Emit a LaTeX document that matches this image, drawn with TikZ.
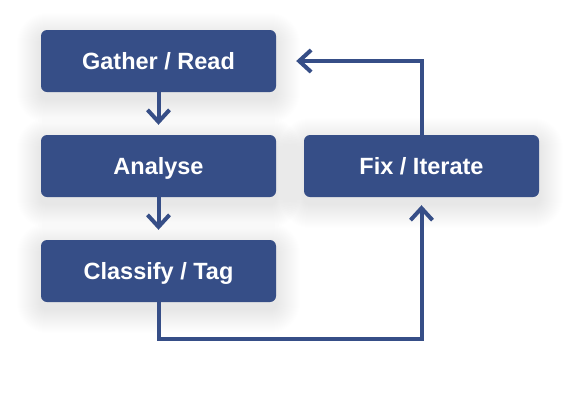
\documentclass[tikz,border=0pt]{standalone}
\usepackage{fontspec}
\setmainfont{Liberation Sans}
\usetikzlibrary{arrows.meta,calc}
\definecolor{boxblue}{HTML}{364E87}
\tikzset{
  stepbox/.style={rectangle, rounded corners=6pt, fill=boxblue, text=white,
    minimum width=235pt, minimum height=62pt, inner sep=0pt,
    text height=17pt, text depth=0pt,
    font=\fontsize{23.5pt}{28pt}\selectfont\bfseries},
  conn/.style={draw=boxblue, line width=4pt, -{Straight Barb[length=12pt,width=22pt,line width=4pt]}},
  glow/.style={fill=black, fill opacity=0.0055}
}
\newcommand{\boxglow}[1]{%
  \foreach \i in {1,...,24} {
    \fill[glow, rounded corners=6pt+\i pt]
      ($(#1)+(-117.5-\i,-31-\i+7)$) rectangle ($(#1)+(117.5+\i,31+\i+7)$);
  }}
\begin{document}
\begin{tikzpicture}[x=1pt,y=-1pt]
\useasboundingbox[fill=white] (0,0) rectangle (581,410);
\coordinate (cg) at (158.5,61);
\coordinate (ca) at (158.5,166);
\coordinate (cc) at (158.5,271);
\coordinate (cf) at (421.5,166);
\boxglow{cg}
\boxglow{ca}
\boxglow{cc}
\boxglow{cf}
\node[stepbox] (gather) at (cg) {Gather / Read};
\node[stepbox] (analyse) at (ca) {Analyse};
\node[stepbox] (classify) at (cc) {Classify / Tag};
\node[stepbox] (fix) at (cf) {Fix / Iterate};
\coordinate (gin) at ([xshift=20pt]gather.east);
\coordinate (ain) at ([yshift=10pt]analyse.north);
\coordinate (cin) at ([yshift=10pt]classify.north);
\coordinate (fin) at ([yshift=-8pt]fix.south);
\coordinate (low) at ($(classify.south)+(0,37)$);
\draw[conn] (gather.south) -- (ain);
\draw[conn] (analyse.south) -- (cin);
\draw[conn] (classify.south) -- (low) -| (fin);
\draw[conn] (fix.north) |- (gin);
\end{tikzpicture}
\end{document}
